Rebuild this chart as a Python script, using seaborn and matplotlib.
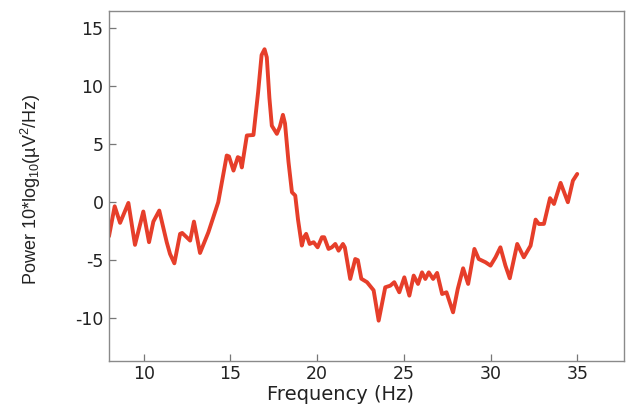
import numpy as np
import pandas as pd
import seaborn as sns
from matplotlib import pyplot as plt

# spectrum
freq = [8.0, 8.33, 8.64, 9.12, 9.5, 9.98, 10.31, 10.56, 10.9, 11.33, 11.52, 11.77,
        12.1, 12.22, 12.68, 12.9, 13.25, 13.73, 14.3, 14.79, 14.92, 15.18, 15.43,
        15.55, 15.66, 15.95, 16.33, 16.6, 16.8, 16.97, 17.1, 17.25, 17.39, 17.68,
        17.85, 18.03, 18.15, 18.35, 18.55, 18.74, 18.9, 19.12, 19.25, 19.37, 19.57,
        19.8, 20.03, 20.28, 20.41, 20.66, 20.85, 21.05, 21.24, 21.49, 21.6, 21.91,
        22.2, 22.35, 22.55, 22.88, 23.26, 23.55, 23.93, 24.22, 24.45, 24.74, 25.03,
        25.32, 25.57, 25.82, 26.05, 26.24, 26.44, 26.69, 26.92, 27.21, 27.46, 27.84,
        28.11, 28.42, 28.71, 29.07, 29.32, 29.71, 30.0, 30.29, 30.57, 30.86, 31.11,
        31.54, 31.92, 32.31, 32.6, 32.79, 33.08, 33.43, 33.66, 34.04, 34.46, 34.75,
        35.0]
power = [-2.94, -0.35, -1.78, -0.06, -3.68, -0.8, -3.45, -1.67, -0.72, -3.45, -4.46,
         -5.27, -2.73, -2.65, -3.31, -1.67, -4.38, -2.6, 0.0, 4.03, 3.95, 2.73, 3.89,
         3.8, 3.0, 5.76, 5.8, 9.5, 12.7, 13.2, 12.5, 9.0, 6.6, 5.9, 6.5, 7.54, 6.8,
         3.5, 0.86, 0.58, -1.5, -3.74, -3.0, -2.73, -3.6, -3.45, -3.89, -3.02, -3.02,
         -4.03, -3.89, -3.6, -4.18, -3.6, -3.9, -6.62, -4.9, -5.0, -6.6, -6.9, -7.6,
         -10.22, -7.34, -7.2, -6.9, -7.77, -6.48, -8.06, -6.33, -7.05, -6.05, -6.62,
         -6.05, -6.62, -6.1, -7.92, -7.77, -9.5, -7.49, -5.7, -7.05, -4.03, -4.9,
         -5.18, -5.47, -4.75, -3.89, -5.47, -6.56, -3.6, -4.75, -3.75, -1.5, -1.88,
         -1.87, 0.35, -0.15, 1.67, 0.0, 1.86, 2.44]

xticks = [10, 15, 20, 25, 30, 35]
yticks = [-10, -5, 0, 5, 10, 15]

sns.set_theme(style="white")
plt.rcParams['font.family'] = ['DejaVu Sans']
plt.rcParams['axes.unicode_minus'] = False
plt.rcParams['mathtext.fontset'] = 'custom'
plt.rcParams['mathtext.rm'] = 'Liberation Sans'

df = pd.DataFrame({'freq': freq, 'power': power})

fig = plt.figure(figsize=(6.31, 4.07), dpi=100)
ax = fig.add_axes([0.1727, 0.113, 0.8163, 0.860])

sns.lineplot(data=df, x='freq', y='power', ax=ax, color='#E63E2A',
             linewidth=2.8, estimator=None, sort=False)
for line in ax.lines:
    line.set_solid_joinstyle('round')
    line.set_solid_capstyle('round')

ax.set_xlim(8, 37.7)
ax.set_ylim(-13.7, 16.5)
ax.set_xticks(xticks)
ax.set_yticks(yticks)
ax.tick_params(direction='in', length=5, width=0.9, color='#777777',
               labelsize=12.5, labelcolor='#222222', pad=4,
               left=True, bottom=True)
ax.tick_params(axis='x', pad=3)

for sp in ax.spines.values():
    sp.set_color('#8a8a8a')
    sp.set_linewidth(1.0)

ax.set_xlabel('Frequency (Hz)', fontsize=14, color='#222222', labelpad=0)
ax.xaxis.set_label_coords(0.45, -0.068)
ax.set_ylabel(r'Power 10*log$_{\mathregular{10}}$(µV$^{\mathregular{2}}$/Hz)',
              fontsize=13, color='#222222',
              family=['Liberation Sans Narrow', 'Liberation Sans', 'DejaVu Sans'])
ax.yaxis.set_label_coords(-0.128, 0.49)

fig.savefig('out.png', dpi=100)
